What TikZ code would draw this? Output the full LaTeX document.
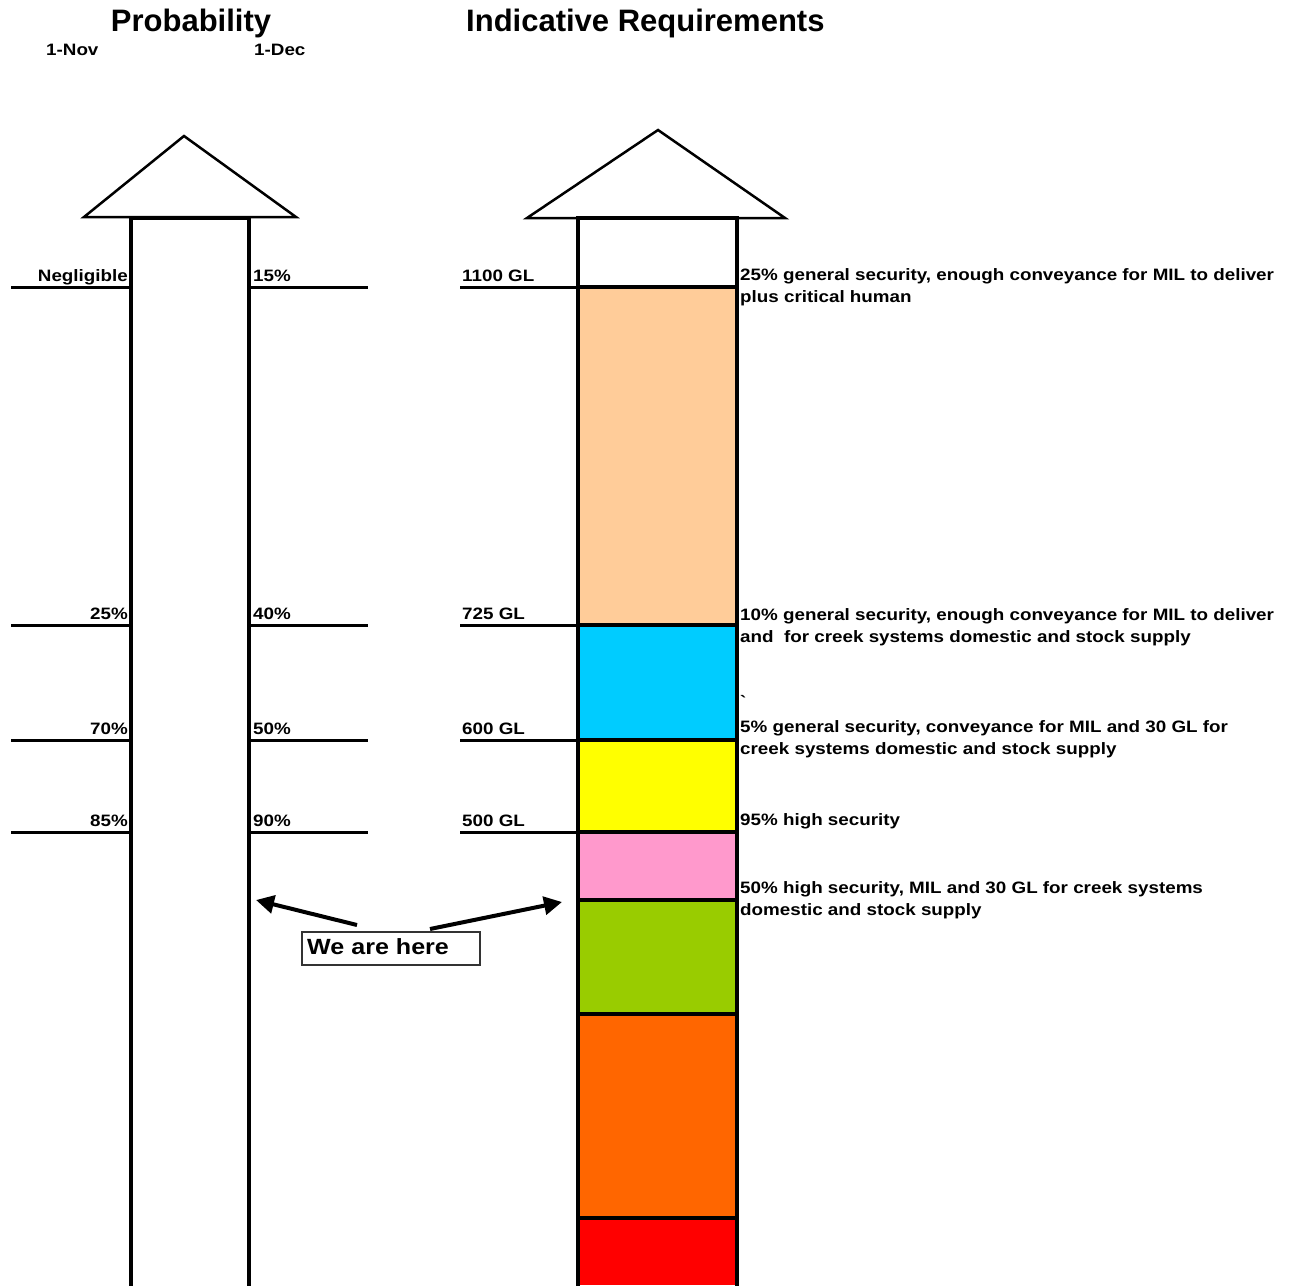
\documentclass[tikz,border=0pt]{standalone}
\usepackage{fontspec}
\setmainfont{Liberation Sans}
\newfontfamily\lblfont{Liberation Sans}[FakeStretch=1.14]
\usetikzlibrary{arrows.meta}
\definecolor{peach}{HTML}{FFCC99}
\definecolor{skyband}{HTML}{00CCFF}
\definecolor{yellowband}{HTML}{FFFF00}
\definecolor{pinkband}{HTML}{FF99CC}
\definecolor{greenband}{HTML}{99CC00}
\definecolor{orangeband}{HTML}{FF6600}
\definecolor{redband}{HTML}{FF0000}
\tikzset{
  title/.style={font=\bfseries\fontsize{31}{36}\selectfont, inner sep=0pt},
  lbl/.style={font=\lblfont\bfseries\fontsize{16.5}{22}\selectfont, inner sep=0pt},
  note/.style={lbl, anchor=base west, align=left},
  level/.style={line width=3pt},
  column/.style={line width=4pt},
  roof/.style={line width=2.5pt, line join=miter},
}
\begin{document}
\begin{tikzpicture}[x=1pt,y=-1pt]
  \useasboundingbox (0,0) rectangle (1292,1285);
  % headings
  \draw
    (191,31) node[title, anchor=base] (prob){Probability}
    (466,31) node[title, anchor=base west] (req){Indicative Requirements}
    (46,55) node[lbl, anchor=base west] (nov){1-Nov}
    (254,55) node[lbl, anchor=base west] (dec){1-Dec};
  % requirement bands
  \fill[peach] (578,287) rectangle (737,625);
  \fill[skyband] (578,625) rectangle (737,740);
  \fill[yellowband] (578,740) rectangle (737,832);
  \fill[pinkband] (578,832) rectangle (737,900);
  \fill[greenband] (578,900) rectangle (737,1014);
  \fill[orangeband] (578,1014) rectangle (737,1218);
  \fill[redband] (578,1218) rectangle (737,1285);
  % the two arrows
  \draw[roof] (84,217) -- (184,136) -- (296,217) -- cycle;
  \draw[roof] (527,218) -- (658,130) -- (785,218) -- cycle;
  \draw[column] (131,1290) -- (131,218) -- (249,218) -- (249,1290);
  \draw[column] (578,1290) -- (578,218) -- (737,218) -- (737,1290);
  % levels
  \foreach \y in {287,625,740,832} {
    \draw[level] (11,\y) -- (131,\y);
    \draw[level] (249,\y) -- (368,\y);
    \draw[level] (460,\y) -- (578,\y);
    \draw[column] (578,\y) -- (737,\y);
  }
  \foreach \y in {900,1014,1218}
    \draw[column] (578,\y) -- (737,\y);
  \draw
    (128,281) node[lbl, anchor=base east] (p1){Negligible}
    (128,619) node[lbl, anchor=base east] (p2){25\%}
    (128,734) node[lbl, anchor=base east] (p3){70\%}
    (128,826) node[lbl, anchor=base east] (p4){85\%}
    (253,281) node[lbl, anchor=base west] (d1){15\%}
    (253,619) node[lbl, anchor=base west] (d2){40\%}
    (253,734) node[lbl, anchor=base west] (d3){50\%}
    (253,826) node[lbl, anchor=base west] (d4){90\%}
    (462,281) node[lbl, anchor=base west] (g1){1100 GL}
    (462,619) node[lbl, anchor=base west] (g2){725 GL}
    (462,734) node[lbl, anchor=base west] (g3){600 GL}
    (462,826) node[lbl, anchor=base west] (g4){500 GL};
  % what each level buys (base = last line)
  \draw
    (740,302) node[note] (n1){25\% general security, enough conveyance for MIL to deliver\\plus critical human}
    (740,642) node[note] (n2){10\% general security, enough conveyance for MIL to deliver\\and~ for creek systems domestic and stock supply}
    (740,707) node[lbl, anchor=base west] (tick){`}
    (740,754) node[note] (n3){5\% general security, conveyance for MIL and 30 GL for\\creek systems domestic and stock supply}
    (740,825) node[note] (n4){95\% high security}
    (740,915) node[note] (n5){50\% high security, MIL and 30 GL for creek systems\\domestic and stock supply};
  % we are here
  \node[draw=black!80, line width=1.2pt, minimum width=178pt, minimum height=33pt,
        inner sep=0pt] (here) at (391,948.5) {};
  \node[lbl, anchor=base west, font=\lblfont\bfseries\fontsize{22}{24}\selectfont]
    (herelbl) at (307,954) {We are here};
  \coordinate (hereL) at (357,925);
  \coordinate (hereR) at (430,929);
  \coordinate (probcol) at (256,900);
  \coordinate (reqcol) at (562,902);
  \begin{scope}[line width=4pt, -{Triangle[length=18pt,width=18pt]}]
    \draw (hereL) to (probcol);
    \draw (hereR) to (reqcol);
  \end{scope}
\end{tikzpicture}
\end{document}
